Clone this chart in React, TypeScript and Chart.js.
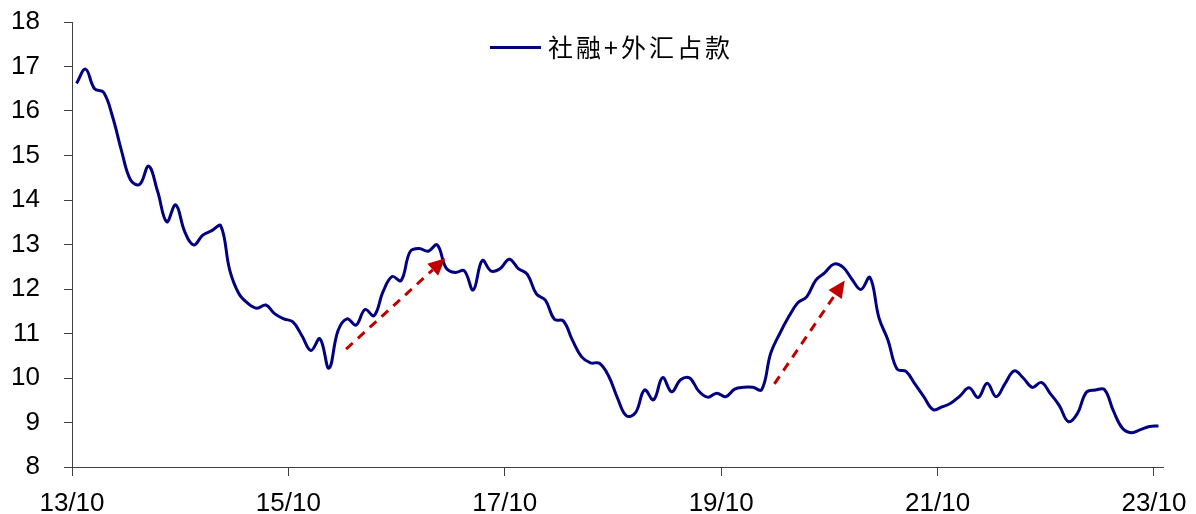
import React, { useEffect, useRef } from 'react';
import { Chart, registerables } from 'chart.js';

Chart.register(...registerables);

// Monthly values, Oct 2013 .. Oct 2023 (index 0..120)
const seriesValues: number[] = [
  16.62, 16.94, 16.50, 16.42, 15.87, 15.10, 14.45, 14.35, 14.76, 14.19,
  13.51, 13.89, 13.29, 12.99, 13.21, 13.31, 13.42, 12.42, 11.90, 11.68,
  11.57, 11.64, 11.44, 11.33, 11.26, 10.95, 10.62, 10.88, 10.22, 11.06,
  11.33, 11.19, 11.54, 11.40, 11.94, 12.28, 12.19, 12.84, 12.91, 12.85,
  12.99, 12.47, 12.37, 12.41, 11.98, 12.64, 12.40, 12.46, 12.67, 12.46,
  12.33, 11.89, 11.75, 11.32, 11.28, 10.85, 10.48, 10.34, 10.33, 10.05,
  9.55, 9.15, 9.22, 9.73, 9.51, 10.01, 9.69, 9.96, 10.00, 9.71,
  9.57, 9.66, 9.58, 9.75, 9.79, 9.79, 9.74, 10.56, 11.00, 11.38,
  11.69, 11.83, 12.20, 12.37, 12.56, 12.49, 12.22, 11.99, 12.26, 11.35,
  10.85, 10.20, 10.15, 9.86, 9.57, 9.29, 9.35, 9.44, 9.60, 9.78,
  9.56, 9.88, 9.58, 9.88, 10.16, 10.00, 9.79, 9.90, 9.65, 9.38,
  9.02, 9.20, 9.68, 9.73, 9.74, 9.26, 8.87, 8.77, 8.84, 8.91,
  8.92,
];

const seriesName = '社融+外汇占款';

// x tick marks sit on month boundaries, every 24 months
const xTickPositions: number[] = [-0.5, 23.5, 47.5, 71.5, 95.5, 119.5];
const xTickLabels: string[] = ['13/10', '15/10', '17/10', '19/10', '21/10', '23/10'];

// dashed red arrows (data coordinates: month index, value)
const arrowFromX: number[] = [29.9, 77.4];
const arrowFromY: number[] = [10.65, 9.87];
const arrowToX: number[] = [40.9, 85.2];
const arrowToY: number[] = [12.69, 12.19];

const LINE_COLOR = '#000080';
const AXIS_COLOR = '#404040';
const FONT = "'Liberation Sans', Arial, sans-serif";

function drawArrow(ctx: CanvasRenderingContext2D, x1: number, y1: number, x2: number, y2: number) {
  const ang = Math.atan2(y2 - y1, x2 - x1);
  const headLen = 17;
  const headW = 8;
  const bx = x2 - headLen * Math.cos(ang);
  const by = y2 - headLen * Math.sin(ang);
  ctx.save();
  ctx.strokeStyle = '#C00000';
  ctx.fillStyle = '#C00000';
  ctx.lineWidth = 3;
  ctx.setLineDash([9, 7]);
  ctx.beginPath();
  ctx.moveTo(x1, y1);
  ctx.lineTo(bx, by);
  ctx.stroke();
  ctx.setLineDash([]);
  ctx.beginPath();
  ctx.moveTo(x2, y2);
  ctx.lineTo(bx + headW * Math.sin(ang), by - headW * Math.cos(ang));
  ctx.lineTo(bx - headW * Math.sin(ang), by + headW * Math.cos(ang));
  ctx.closePath();
  ctx.fill();
  ctx.restore();
}

const arrowPlugin = {
  id: 'arrowPlugin',
  afterDatasetsDraw(chart: any) {
    const { ctx, scales } = chart;
    const xs = scales.x;
    const ys = scales.y;
    for (let k = 0; k < arrowFromX.length; k++) {
      drawArrow(
        ctx,
        xs.getPixelForValue(arrowFromX[k]),
        ys.getPixelForValue(arrowFromY[k]),
        xs.getPixelForValue(arrowToX[k]),
        ys.getPixelForValue(arrowToY[k])
      );
    }
  },
};

const legendPlugin = {
  id: 'inlineLegend',
  afterDraw(chart: any) {
    const ctx: CanvasRenderingContext2D = chart.ctx;
    ctx.save();
    ctx.strokeStyle = LINE_COLOR;
    ctx.lineWidth = 3;
    ctx.beginPath();
    ctx.moveTo(490, 47.5);
    ctx.lineTo(541, 47.5);
    ctx.stroke();
    ctx.fillStyle = '#000';
    ctx.font = "25px 'Noto Sans CJK SC', sans-serif";
    (ctx as any).letterSpacing = '3px';
    ctx.textBaseline = 'middle';
    ctx.textAlign = 'left';
    ctx.fillText(seriesName, 548, 47);
    ctx.restore();
  },
};

export default function App() {
  const canvasRef = useRef<HTMLCanvasElement | null>(null);

  useEffect(() => {
    if (!canvasRef.current) return;
    const chart = new Chart(canvasRef.current, {
      type: 'line',
      data: {
        datasets: [
          {
            label: seriesName,
            data: seriesValues.map((v, i) => ({ x: i, y: v })),
            borderColor: LINE_COLOR,
            backgroundColor: LINE_COLOR,
            borderWidth: 3,
            pointRadius: 0,
            tension: 0.4,
            fill: false,
          },
        ],
      },
      options: {
        responsive: false,
        animation: false,
        events: [],
        layout: { padding: { left: 0, right: 33, top: 22, bottom: 0 } },
        plugins: {
          legend: { display: false },
          tooltip: { enabled: false },
        },
        scales: {
          x: {
            type: 'linear',
            min: -0.5,
            max: 120.5,
            afterBuildTicks: (s: any) => {
              s.ticks = xTickPositions.map((v) => ({ value: v }));
            },
            afterFit: (s: any) => {
              s.height = 47;
              s.paddingLeft = 0;
              s.paddingRight = 0;
            },
            grid: {
              display: true,
              drawOnChartArea: false,
              drawTicks: true,
              tickLength: 9,
              color: AXIS_COLOR,
            },
            border: { display: true, color: AXIS_COLOR, width: 1 },
            ticks: {
              autoSkip: false,
              maxRotation: 0,
              padding: 12,
              color: '#000',
              font: { family: FONT, size: 26 },
              callback: (_v: any, idx: number) => xTickLabels[idx],
            },
          },
          y: {
            min: 8,
            max: 18,
            afterFit: (s: any) => {
              s.width = 72;
              s.paddingTop = 0;
              s.paddingBottom = 0;
            },
            grid: {
              display: true,
              drawOnChartArea: false,
              drawTicks: true,
              tickLength: 8,
              color: AXIS_COLOR,
            },
            border: { display: true, color: AXIS_COLOR, width: 1 },
            ticks: {
              stepSize: 1,
              padding: 24,
              color: '#000',
              font: { family: FONT, size: 26 },
            },
          },
        },
      },
      plugins: [arrowPlugin, legendPlugin],
    } as any);
    return () => chart.destroy();
  }, []);

  return (
    <div style={{ position: 'absolute', left: 0, top: 0, width: 1196, height: 514, background: '#fff' }}>
      <canvas ref={canvasRef} width={1196} height={514} style={{ display: 'block' }} />
    </div>
  );
}
